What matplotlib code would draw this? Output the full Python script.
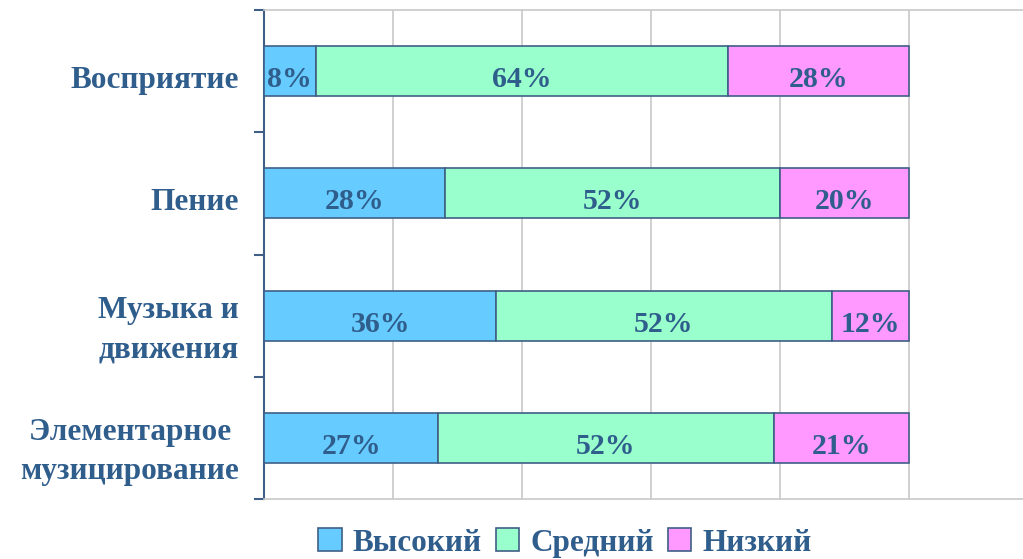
import matplotlib
matplotlib.use("Agg")
import matplotlib.pyplot as plt
from matplotlib.patches import Patch
import matplotlib.transforms as mtransforms
import numpy as np

categories = ["Восприятие", "Пение", "Музыка и\nдвижения", "Элементарное \nмузицирование"]
series_names = ["Высокий", "Средний", "Низкий"]
high = [8, 28, 36, 27]
mid = [64, 52, 52, 52]
low = [28, 20, 12, 21]
colors = ["#66CCFF", "#99FFCC", "#FF99FF"]
text_color = "#2F5D8C"
edge_color = "#3F5F86"

plt.rcParams['font.family'] = ['Liberation Serif', 'DejaVu Serif']

fig = plt.figure(figsize=(10.23, 5.59), dpi=100)
ax = fig.add_axes([264/1023, 1-499/559, 774/1023, 489/559])

y = np.arange(len(categories))
left = np.zeros(len(categories))
for name, vals, c in zip(series_names, [high, mid, low], colors):
    vals = np.array(vals, dtype=float)
    ax.barh(y, vals, left=left, height=0.41, color=c, edgecolor=edge_color,
            linewidth=1.2, label=name, zorder=3)
    for yi, l, v in zip(y, left, vals):
        ax.text(l + v/2, yi + 0.07, f"{int(v)}%", ha='center', va='center', fontsize=21.5,
                fontweight='bold', color=text_color, zorder=4)
    left += vals

ax.set_xlim(0, 120)
ax.set_ylim(len(categories)-0.5, -0.5)
ax.set_xticks(np.arange(0, 121, 20))
ax.tick_params(axis='x', length=0, labelbottom=False)
ax.xaxis.grid(True, color="#C8C8C8", linewidth=1.2, zorder=0)
ax.set_axisbelow(True)

ax.set_yticks(y)
ax.set_yticklabels(categories, fontsize=22.5, fontweight='bold', color=text_color,
                   linespacing=1.45)
ax.tick_params(axis='y', which='major', length=0, pad=18)
offset = mtransforms.ScaledTranslation(0, -6/100, fig.dpi_scale_trans)
for lbl in ax.get_yticklabels():
    lbl.set_transform(lbl.get_transform() + offset)
ax.set_yticks(np.arange(-0.5, len(categories), 1.0), minor=True)
ax.tick_params(axis='y', which='minor', length=7, width=1.5, color=edge_color, direction='out')

ax.spines['left'].set_color(edge_color)
ax.spines['left'].set_linewidth(1.5)
for s in ['top', 'bottom']:
    ax.spines[s].set_color("#C8C8C8")
    ax.spines[s].set_linewidth(1.2)
ax.spines['right'].set_visible(False)

handles = [Patch(facecolor=c, edgecolor=edge_color, linewidth=1.2, label=n)
           for c, n in zip(colors, series_names)]
leg = fig.legend(handles=handles, loc='center', bbox_to_anchor=(565/1023, 1-543/559),
                 ncol=3, frameon=False, prop={'size': 22.5, 'weight': 'bold'},
                 handlelength=0.75, handleheight=0.75, handletextpad=0.35, columnspacing=0.45)
for t in leg.get_texts():
    t.set_color(text_color)

fig.savefig("out.png", dpi=100)
